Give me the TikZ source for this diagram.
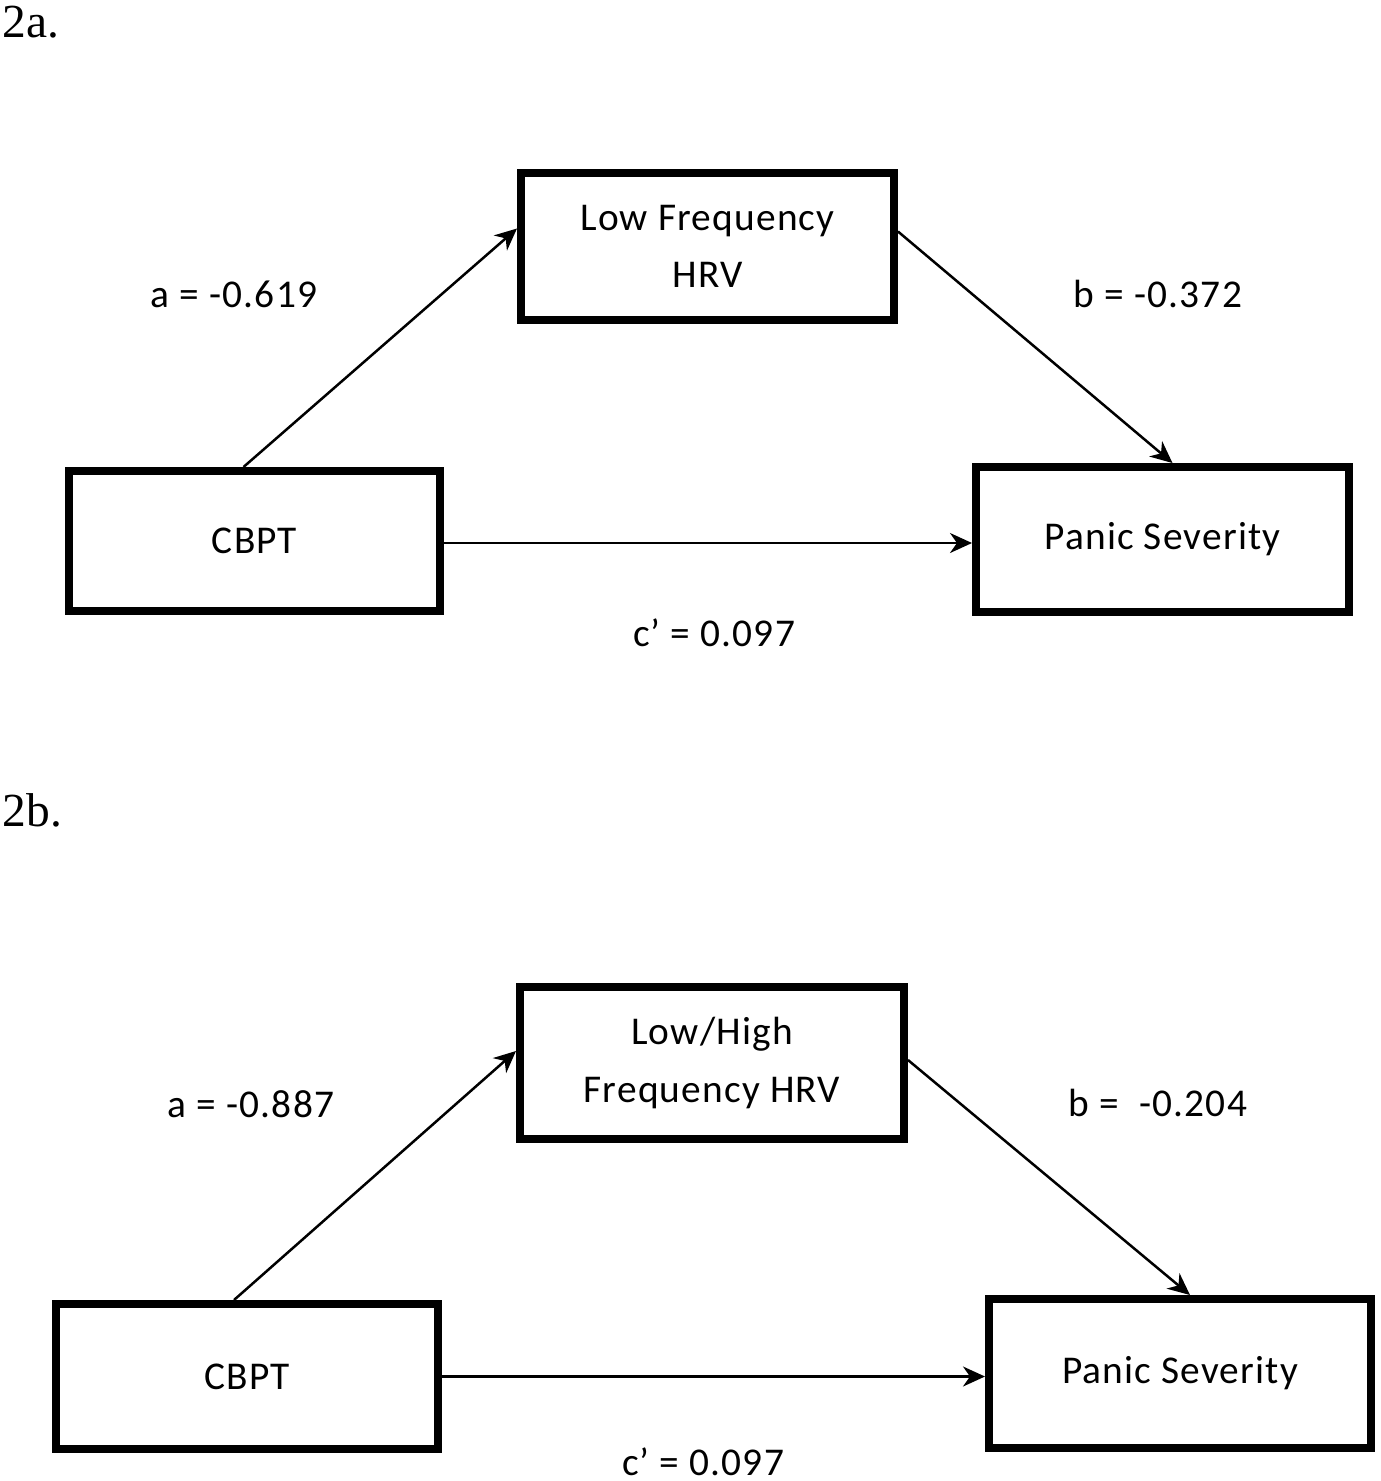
\documentclass[tikz,border=0pt]{standalone}
\usepackage{fontspec}
\setmainfont{Liberation Serif}
\newfontfamily\boxfont[LetterSpace=3]{Carlito}
\usetikzlibrary{arrows.meta,positioning,calc}
\tikzstyle{box} = [draw, rectangle, line width=0.8mm, font=\boxfont\fontsize{11.2}{16.3}\selectfont, align=center, inner sep=0pt]
\tikzstyle{coef} = [font=\boxfont\fontsize{11.2}{12}\selectfont, inner sep=0pt]
\tikzstyle{panel} = [font=\fontsize{13.5}{15}\selectfont, anchor=base west, inner sep=0pt]
\tikzstyle{line} = [draw, line width=0.25mm, -{Stealth[length=2.2mm, width=2mm, inset=0.7mm]}]

\begin{document}
\begin{tikzpicture}[x=0.1mm, y=-0.1mm]
	\useasboundingbox (0,0) rectangle (1381,1481);

	% panel 2a
	\node [panel] (lab2a) at (2,37) {2a.};
	\node [box, minimum width=37.3mm, minimum height=14.7mm] (lf) at (707.5,246.5) {Low Frequency\\HRV};
	\node [box, minimum width=37.1mm, minimum height=14mm] (cbpt) at (254.5,541) {CBPT};
	\node [box, minimum width=37.3mm, minimum height=14.5mm] (panic) at (1162.5,539.5) {Panic Severity};

	\node [coef] (a1) at (234,294) {a = -0.619};
	\node [coef] (b1) at (1158,294) {b = -0.372};
	\node [coef] (c1) at (714,633) {c’ = 0.097};

	\path [line] ([xshift=-1.1mm]cbpt.north) -- ([yshift=1.8mm]lf.west);
	\path [line] ([yshift=1.5mm]lf.east) -- ([xshift=1mm]panic.north);
	\path [line] ([yshift=-0.2mm]cbpt.east) -- ([yshift=-0.2mm]cbpt.east -| panic.west);

	% panel 2b
	\node [panel] (lab2b) at (2,826) {2b.};
	\node [box, minimum width=38.4mm, minimum height=15.2mm] (lh) at (712,1063) {Low/High\\Frequency HRV};
	\node [box, minimum width=38.2mm, minimum height=14.5mm] (cbpt2) at (247,1376.5) {CBPT};
	\node [box, minimum width=38.2mm, minimum height=14.9mm] (panic2) at (1180,1373.5) {Panic Severity};

	\node [coef] (a2) at (251,1104) {a = -0.887};
	\node [coef] (b2) at (1158,1103) {b =\ \ -0.204};
	\node [coef] (c2) at (703,1462) {c’ = 0.097};

	\path [line] ([xshift=-1.3mm]cbpt2.north) -- ([yshift=1.2mm]lh.west);
	\path [line] ([yshift=0.3mm]lh.east) -- ([xshift=1mm]panic2.north);
	\path [line] (cbpt2.east) -- (cbpt2.east -| panic2.west);
\end{tikzpicture}
\end{document}
